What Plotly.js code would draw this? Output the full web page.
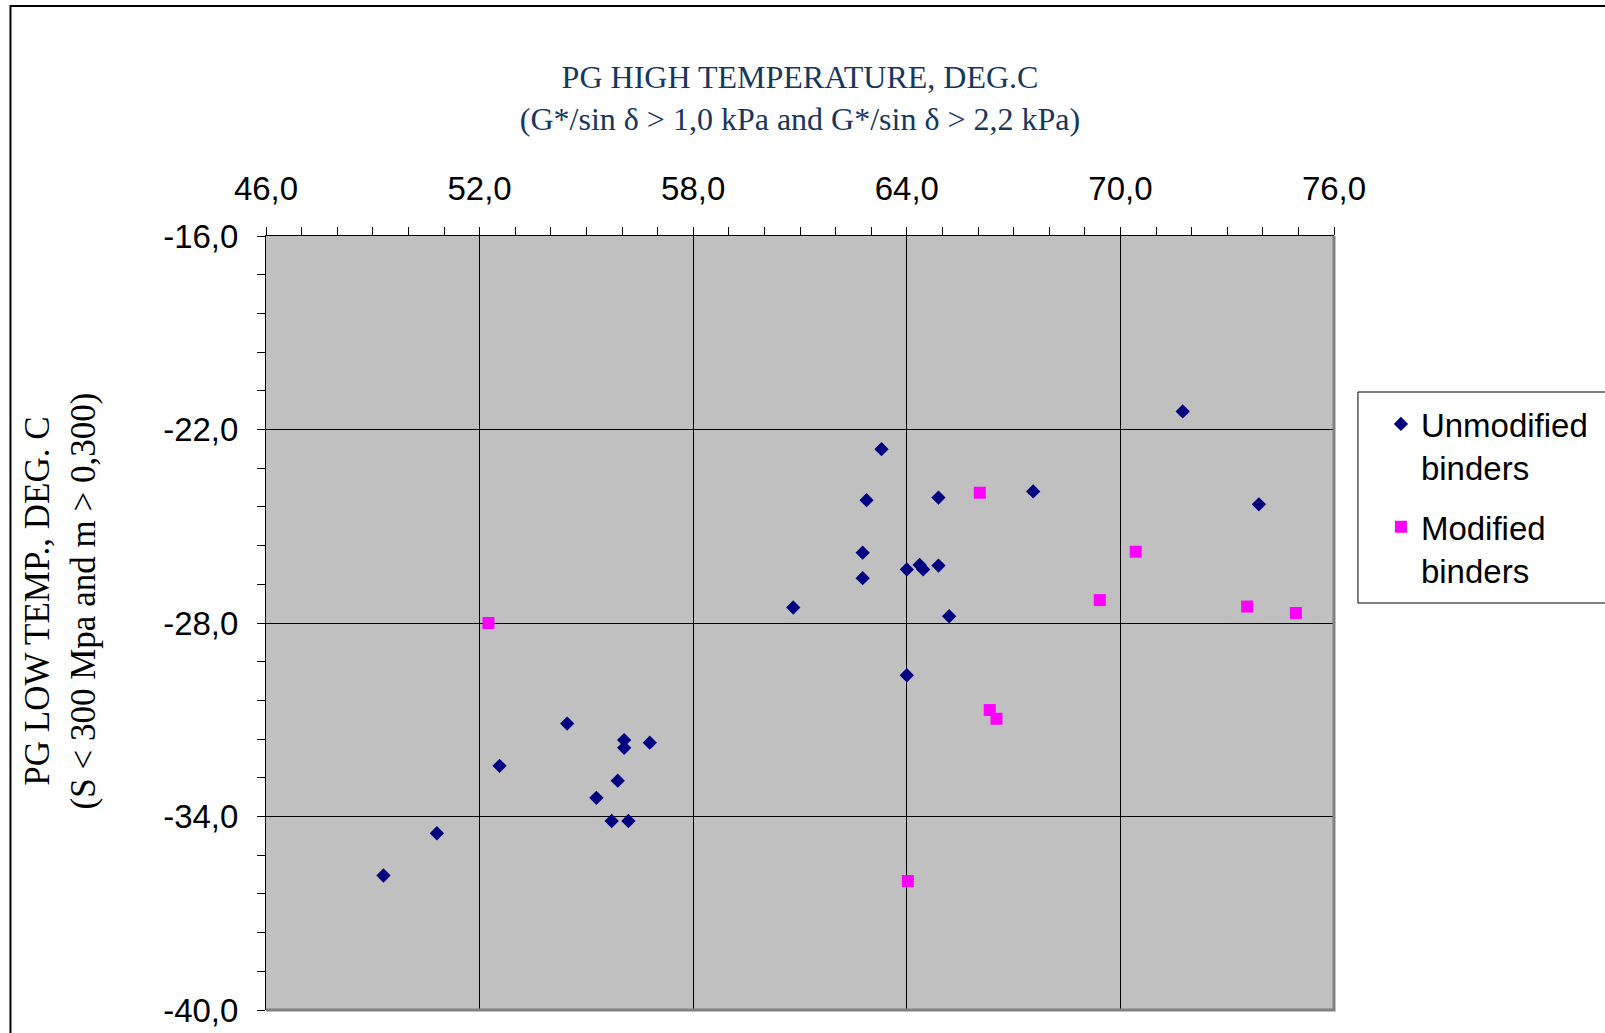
<!DOCTYPE html>
<html>
<head>
<meta charset="utf-8">
<script src="https://cdn.plot.ly/plotly-3.0.1.min.js"></script>
<style>
  html, body { margin: 0; padding: 0; background: #ffffff; }
  #chart { width: 1605px; height: 1033px; }
</style>
</head>
<body>
<div id="chart"></div>
<script>
// ---- Data ----
const unmodifiedName = "Unmodified<br>binders";
const modifiedName = "Modified<br>binders";

const unmodifiedX = [63.29, 62.87, 64.89, 67.55, 62.76, 64.00, 64.36, 64.46, 64.89, 62.76, 60.81, 65.19, 64.00,
                     54.46, 56.06, 56.06, 56.78, 52.56, 55.88, 55.28, 55.71, 56.18, 50.80, 49.30, 71.75, 73.89];
const unmodifiedY = [-22.61, -24.19, -24.11, -23.92, -25.82, -26.34, -26.20, -26.34, -26.22, -26.61, -27.52, -27.79, -29.62,
                     -31.12, -31.63, -31.87, -31.71, -32.43, -32.89, -33.42, -34.14, -34.14, -34.52, -35.83, -21.44, -24.32];

const modifiedX = [52.25, 66.05, 66.33, 66.52, 64.03, 70.43, 69.42, 73.56, 74.93];
const modifiedY = [-28.00, -23.96, -30.70, -30.97, -36.00, -25.79, -27.29, -27.49, -27.69];

const xTickVals = [46, 52, 58, 64, 70, 76];
const xTickLabels = ["46,0", "52,0", "58,0", "64,0", "70,0", "76,0"];
const yTickVals = [-40, -34, -28, -22, -16];
const yTickLabels = ["-40,0", "-34,0", "-28,0", "-22,0", "-16,0"];

const xTitle = "PG HIGH TEMPERATURE, DEG.C<br>(G*/sin δ > 1,0 kPa and G*/sin δ > 2,2 kPa)";
const yTitle = "PG LOW TEMP., DEG. C<br>(S < 300 Mpa and m > 0,300)";

// ---- Layout geometry (pixels) ----
const W = 1605, H = 1033;
const L = 266, R = 1336, T = 236, B = 1010;
const pw = R - L, ph = B - T;
const px = v => (v - L) / pw;
const py = v => (B - v) / ph;

const sans = "Liberation Sans, Arial, sans-serif";
const serif = "Liberation Serif, Times New Roman, serif";

const traces = [
  {
    type: "scatter", mode: "markers", name: unmodifiedName,
    x: unmodifiedX, y: unmodifiedY,
    marker: { symbol: "diamond", size: 11, color: "#000080", line: { width: 0 } },
    legendgroup: "a"
  },
  {
    type: "scatter", mode: "markers", name: modifiedName,
    x: modifiedX, y: modifiedY,
    marker: { symbol: "square", size: 12, color: "#FF00FF", line: { width: 0 } },
    legendgroup: "b"
  }
];

const layout = {
  width: W, height: H,
  margin: { l: L, r: W - R, t: T, b: H - B, pad: 0 },
  paper_bgcolor: "#ffffff",
  plot_bgcolor: "#C0C0C0",
  showlegend: true,
  xaxis: {
    side: "top",
    range: [46, 76],
    tickmode: "array", tickvals: xTickVals, ticktext: xTickLabels,
    ticks: "outside", ticklen: 8, tickwidth: 1, tickcolor: "#000000",
    ticklabelstandoff: 14,
    tickfont: { family: sans, size: 33, color: "#000000" },
    showline: true, linecolor: "#000000", linewidth: 1,
    showgrid: true, gridcolor: "#000000", gridwidth: 1,
    zeroline: false,
    minor: { tickmode: "linear", tick0: 46, dtick: 1, ticks: "outside", ticklen: 8, tickcolor: "#000000", tickwidth: 1, showgrid: false },
    title: { text: xTitle, font: { family: serif, size: 32, color: "#17375E" }, standoff: 29 },
    automargin: false, fixedrange: true
  },
  yaxis: {
    range: [-40, -16],
    tickmode: "array", tickvals: yTickVals, ticktext: yTickLabels,
    ticks: "outside", ticklen: 8, tickwidth: 1, tickcolor: "#000000",
    ticklabelstandoff: 12,
    tickfont: { family: sans, size: 33, color: "#000000" },
    showline: true, linecolor: "#000000", linewidth: 1,
    showgrid: true, gridcolor: "#000000", gridwidth: 1,
    zeroline: false,
    minor: { tickmode: "linear", tick0: -40, dtick: 1.2, ticks: "outside", ticklen: 8, tickcolor: "#000000", tickwidth: 1, showgrid: false },
    title: { text: "" },
    automargin: false, fixedrange: true
  },
  annotations: [
    // y-axis title (placed explicitly, sits slightly above the plot's vertical centre as in the reference)
    { text: yTitle, xref: "paper", yref: "paper", x: px(60), y: py(601),
      xanchor: "center", yanchor: "middle", textangle: -90, showarrow: false,
      font: { family: serif, size: 35, color: "#000000" } }
  ],
  legend: {
    x: px(1383), y: py(396), xanchor: "left", yanchor: "top",
    bgcolor: "rgba(0,0,0,0)", borderwidth: 0,
    font: { family: sans, size: 33, color: "#000000" },
    tracegroupgap: 14, valign: "top"
  },
  shapes: [
    // outer chart border
    { type: "rect", xref: "paper", yref: "paper", x0: px(10), x1: px(1700), y0: py(1100), y1: py(6),
      line: { color: "#000000", width: 2 }, fillcolor: "rgba(0,0,0,0)", layer: "above" },
    // legend box
    { type: "rect", xref: "paper", yref: "paper", x0: px(1360), x1: px(1700), y0: py(603), y1: py(392),
      line: { color: "#000000", width: 1 }, fillcolor: "rgba(0,0,0,0)", layer: "above" },
    // gray right & bottom plot-area border
    { type: "path", xref: "paper", yref: "paper", path: "M 1,1 L 1,0 L 0,0",
      line: { color: "#808080", width: 3 }, layer: "above" }
  ]
};

Plotly.newPlot("chart", traces, layout, { staticPlot: true, displayModeBar: false });
</script>
</body>
</html>
